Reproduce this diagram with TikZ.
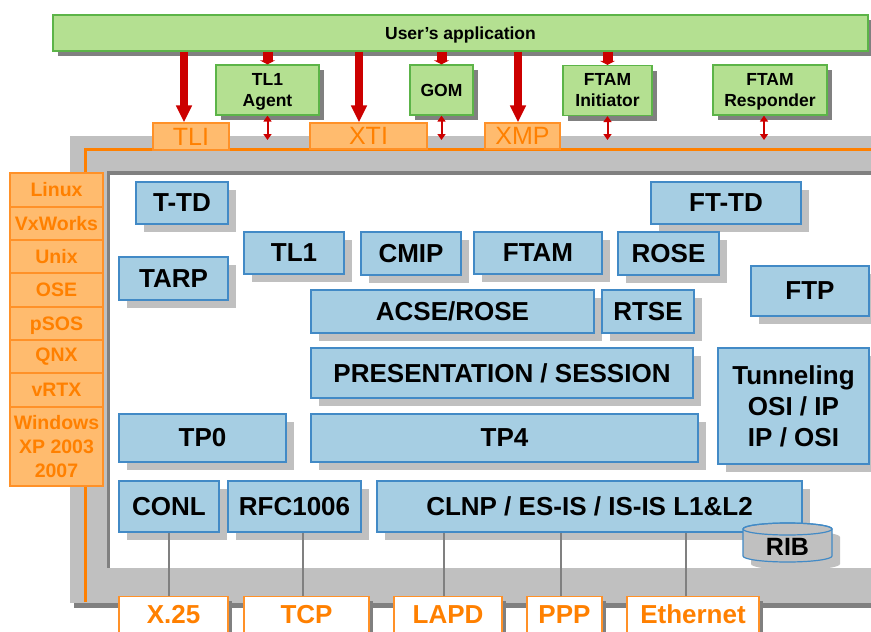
\documentclass[tikz,border=0pt]{standalone}
\usepackage{fontspec}
\setmainfont{Liberation Sans}
\usetikzlibrary{arrows.meta,shadows}

\definecolor{appgreen}{RGB}{180,224,145}
\definecolor{appgreenline}{RGB}{92,180,72}
\definecolor{layerblue}{RGB}{166,206,227}
\definecolor{layerblueline}{RGB}{66,138,198}
\definecolor{apiorange}{RGB}{255,187,110}
\definecolor{apiorangeline}{RGB}{255,145,40}
\definecolor{apitext}{RGB}{255,128,0}
\definecolor{lightgrey}{RGB}{192,192,192}
\definecolor{darkgrey}{RGB}{128,128,128}
\definecolor{arrowred}{RGB}{204,0,0}

\tikzset{
  appbox/.style={draw=appgreenline, fill=appgreen, line width=1.2pt, inner sep=0pt, align=center,
    font=\bfseries\fontsize{17.5}{21}\selectfont,
    drop shadow={shadow xshift=5pt, shadow yshift=-5pt, fill=darkgrey, opacity=1}},
  layerbox/.style={draw=layerblueline, fill=layerblue, line width=1.2pt, inner sep=0pt, align=center,
    font=\bfseries\fontsize{26}{31}\selectfont,
    drop shadow={shadow xshift=8pt, shadow yshift=-8pt, fill=lightgrey, opacity=1}},
  apibox/.style={draw=apiorangeline, fill=apiorange, line width=1.2pt, inner sep=0pt, text=apitext,
    font=\fontsize{25}{30}\selectfont},
  osbox/.style={draw=apiorangeline, fill=apiorange, line width=1.2pt, inner sep=0pt, align=center,
    text=apitext, minimum width=93pt, font=\bfseries\fontsize{19.5}{24}\selectfont},
  linkbox/.style={draw=apiorangeline, fill=white, line width=1.2pt, inner xsep=0pt, inner ysep=8pt,
    anchor=north, text=apitext, text height=18.5pt, text depth=20pt,
    font=\bfseries\fontsize{26}{31}\selectfont,
    drop shadow={shadow xshift=4pt, shadow yshift=-4pt, fill=darkgrey, opacity=1}},
  bigarrow/.style={draw=arrowred, line width=8pt, -{Triangle[width=15pt,length=17pt]}},
  stubarrow/.style={draw=arrowred, line width=10pt, -{Triangle[width=15pt,length=4pt]}},
  dblarrow/.style={draw=arrowred, line width=2pt,
    {Triangle[width=8pt,length=6pt]}-{Triangle[width=8pt,length=6pt]}},
  wire/.style={draw=darkgrey, line width=2pt}
}

\begin{document}
\begin{tikzpicture}[x=1pt,y=-1pt]
\path[use as bounding box] (0,0) rectangle (871,632);
\clip (0,0) rectangle (871,632);

% frame:
\fill[darkgrey] (74,141) rectangle (880,608);
\fill[lightgrey] (70,136) rectangle (880,603);
\fill[darkgrey] (107,171) rectangle (880,568);
\fill[white] (110,175) rectangle (880,568);
\draw[apitext, line width=2.5pt] (85.5,602) -- (85.5,149.5) -- (880,149.5);

% operating systems:
\node[osbox, minimum height=34pt] (linux) at (56.5,190) {Linux};
\node[osbox, minimum height=33pt] (vxworks) at (56.5,223.5) {VxWorks};
\node[osbox, minimum height=33pt] (unix) at (56.5,256.5) {Unix};
\node[osbox, minimum height=34pt] (ose) at (56.5,290) {OSE};
\node[osbox, minimum height=33pt, text depth=0pt] (psos) at (56.5,323.5) {pSOS};
\node[osbox, minimum height=33pt] (qnx) at (56.5,356.5) {QNX};
\node[osbox, minimum height=34pt] (vrtx) at (56.5,390) {vRTX};
\node[osbox, minimum height=79pt] (windows) at (56.5,446.5) {Windows\\XP 2003\\2007};

% programming interfaces:
\node[apibox, minimum width=76pt, minimum height=27pt] (tli) at (191,136.5) {TLI};
\node[apibox, minimum width=117pt, minimum height=26pt] (xti) at (368.5,136) {XTI};
\node[apibox, minimum width=75pt, minimum height=26pt] (xmp) at (522.5,136) {XMP};

% application and agents:
\node[appbox, minimum width=815pt, minimum height=36pt, text depth=0pt] (app) at (460.5,33) {User’s application};
\node[appbox, minimum width=103pt, minimum height=50pt] (tlagent) at (267.5,90) {TL1\\\smash{Agent}};
\node[appbox, minimum width=63pt, minimum height=50pt] (gom) at (441.5,90) {GOM};
\node[appbox, minimum width=89pt, minimum height=50pt] (ftini) at (607.5,90.5) {FTAM\\Initiator};
\node[appbox, minimum width=114pt, minimum height=50pt] (ftresp) at (770,90) {FTAM\\\smash{Responder}};

\coordinate (tliarrow) at (184,0);
\coordinate (xtiarrow) at (359,0);
\coordinate (xmparrow) at (518,0);
\coordinate (respline) at (764,0);
\coordinate (apiend) at (0,140);
\draw[bigarrow] (tliarrow |- app.south) -- (tliarrow |- tli.north);
\draw[bigarrow] (xtiarrow |- app.south) -- (xtiarrow |- xti.north);
\draw[bigarrow] (xmparrow |- app.south) -- (xmparrow |- xmp.north);
\draw[stubarrow] (tlagent.north |- app.south) -- (tlagent.north);
\draw[stubarrow] (gom.north |- app.south) -- (gom.north);
\draw[stubarrow] (ftini.north |- app.south) -- (ftini.north);
\draw[dblarrow] (tlagent.south) -- (tlagent.south |- apiend);
\draw[dblarrow] (gom.south) -- (gom.south |- apiend);
\draw[dblarrow] (ftini.south) -- (ftini.south |- apiend);
\draw[dblarrow] (respline |- ftresp.south) -- (respline |- apiend);

% protocol layers:
\node[layerbox, minimum width=92pt, minimum height=42pt] (ttd) at (182,203) {T-TD};
\node[layerbox, minimum width=150pt, minimum height=42pt] (fttd) at (726,203) {FT-TD};
\node[layerbox, minimum width=100pt, minimum height=42pt] (tl1) at (294,253) {TL1};
\node[layerbox, minimum width=100pt, minimum height=43pt] (cmip) at (411,253.5) {CMIP};
\node[layerbox, minimum width=128pt, minimum height=42pt] (ftam) at (538,253) {FTAM};
\node[layerbox, minimum width=101pt, minimum height=43pt] (rose) at (668.5,253.5) {ROSE};
\node[layerbox, minimum width=109pt, minimum height=43pt] (tarp) at (173.5,278.5) {TARP};
\node[layerbox, minimum width=118pt, minimum height=50pt] (ftp) at (810,291) {FTP};
\node[layerbox, minimum width=283pt, minimum height=43pt] (acse) at (452.5,311.5) {ACSE/ROSE};
\node[layerbox, minimum width=92pt, minimum height=43pt] (rtse) at (648,311.5) {RTSE};
\node[layerbox, minimum width=382pt, minimum height=50pt] (pres) at (502,373) {PRESENTATION / SESSION};
\node[layerbox, minimum width=151pt, minimum height=116pt] (tunnel) at (793.5,406) {Tunneling\\OSI / IP\\IP / OSI};
\node[layerbox, minimum width=167pt, minimum height=48pt] (tp0) at (202.5,438) {TP0};
\node[layerbox, minimum width=387pt, minimum height=48pt] (tp4) at (504.5,438) {TP4};
\node[layerbox, minimum width=100pt, minimum height=51pt] (conl) at (169,506.5) {CONL};
\node[layerbox, minimum width=133pt, minimum height=51pt] (rfc) at (294.5,506.5) {RFC1006};
\node[layerbox, minimum width=425pt, minimum height=51pt] (clnp) at (589.5,506.5) {CLNP / ES-IS / IS-IS L1\&L2};

% routing information base:
\fill[lightgrey, xshift=8pt, yshift=-8pt] (743,529) -- (743,556)
  arc[start angle=180, end angle=0, x radius=44.5, y radius=6] -- (832,529)
  arc[start angle=0, end angle=-180, x radius=44.5, y radius=6] -- cycle;
\draw[layerblueline, fill=lightgrey, line width=1.2pt] (743,529) -- (743,556)
  arc[start angle=180, end angle=0, x radius=44.5, y radius=6] -- (832,529)
  arc[start angle=0, end angle=-180, x radius=44.5, y radius=6] -- cycle;
\draw[layerblueline, line width=1.2pt] (787.5,529) ellipse [x radius=44.5, y radius=6];
\node[font=\bfseries\fontsize{25}{30}\selectfont] (rib) at (787.5,547) {RIB};

% links:
\node[linkbox, minimum width=109pt] (x25) at (173.5,596) {X.25};
\node[linkbox, minimum width=125pt] (tcp) at (306.5,596) {TCP};
\node[linkbox, minimum width=108pt] (lapd) at (448,596) {LAPD};
\node[linkbox, minimum width=75pt] (ppp) at (564.5,596) {PPP};
\node[linkbox, minimum width=132pt] (eth) at (693,596) {Ethernet};
\draw[wire] (conl.south) -- (conl.south |- x25.north);
\draw[wire] ([xshift=-4pt]tcp.north |- rfc.south) -- ([xshift=-4pt]tcp.north);
\draw[wire] ([xshift=-4pt]lapd.north |- clnp.south) -- ([xshift=-4pt]lapd.north);
\draw[wire] ([xshift=-4pt]ppp.north |- clnp.south) -- ([xshift=-4pt]ppp.north);
\draw[wire] ([xshift=-7pt]eth.north |- clnp.south) -- ([xshift=-7pt]eth.north);

\end{tikzpicture}
\end{document}
